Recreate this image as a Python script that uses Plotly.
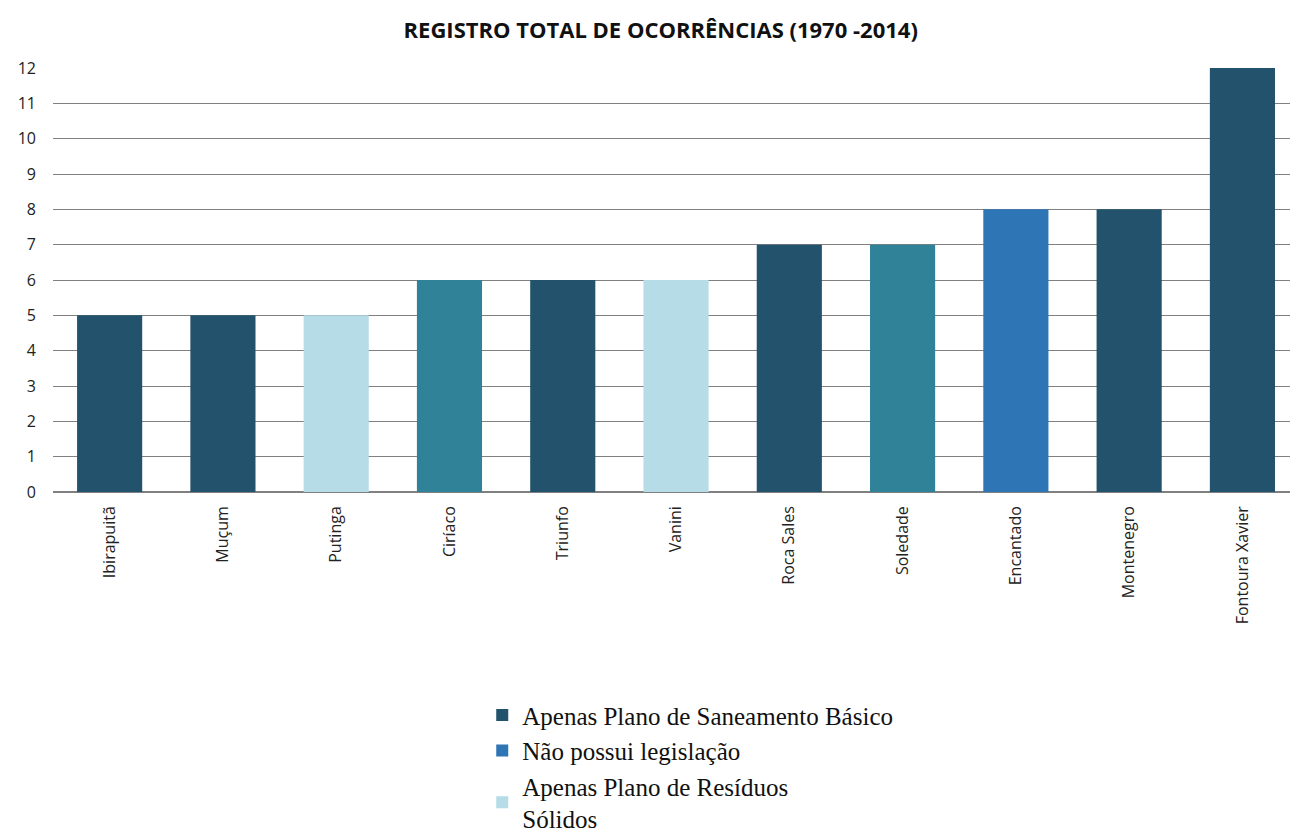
import plotly.graph_objects as go

# Municipalities and total number of recorded occurrences (1970-2014)
cities = ["Ibirapuitã", "Muçum", "Putinga", "Ciríaco", "Triunfo", "Vanini",
          "Roca Sales", "Soledade", "Encantado", "Montenegro", "Fontoura Xavier"]
occurrences = [5, 5, 5, 6, 6, 6, 7, 7, 8, 8, 12]
# Legislation group of each municipality
groups = ["saneamento", "saneamento", "residuos", "outro", "saneamento", "residuos",
          "saneamento", "outro", "sem", "saneamento", "saneamento"]

group_names = {
    "saneamento": "Apenas Plano de Saneamento Básico",
    "sem": "Não possui legislação",
    "residuos": "Apenas Plano de Resíduos<br>Sólidos",
    "outro": "Outro",
}
group_colors = {
    "saneamento": "#22526c",
    "sem": "#2e75b6",
    "residuos": "#b5dce7",
    "outro": "#2f8298",
}
legend_order = ["saneamento", "sem", "residuos", "outro"]

fig = go.Figure()
for i, g in enumerate(legend_order):
    xs = [c for c, gg in zip(cities, groups) if gg == g]
    ys = [v for v, gg in zip(occurrences, groups) if gg == g]
    fig.add_trace(go.Bar(
        x=xs, y=ys, name=group_names[g],
        marker=dict(color=group_colors[g], line=dict(width=0)),
        showlegend=(g != "outro"),
        legendrank=i + 1,
    ))

fig.update_layout(
    width=1293, height=839,
    paper_bgcolor="white", plot_bgcolor="white",
    margin=dict(l=53, r=3, t=68, b=347, autoexpand=False),
    barmode="overlay", bargap=0.425,
    title=dict(
        text="<b>REGISTRO TOTAL DE OCORRÊNCIAS (1970 -2014)</b>",
        x=0.511, xanchor="center", y=0.964, yanchor="middle",
        font=dict(family="Open Sans", size=22, color="#111111"),
    ),
    legend=dict(
        x=0.347, xanchor="left", y=-0.472, yanchor="top",
        orientation="v",
        font=dict(family="Liberation Serif", size=25, color="#111111"),
        traceorder="normal",
        itemsizing="constant",
        bgcolor="rgba(0,0,0,0)",
    ),
    xaxis=dict(
        type="category",
        categoryorder="array", categoryarray=cities,
        range=[-0.5, 10.42],
        tickangle=-90,
        tickfont=dict(family="Open Sans", size=16, color="#222222"),
        showgrid=False, showline=False, zeroline=False,
        ticks="",
        ticklabelstandoff=10,
    ),
    yaxis=dict(
        range=[0, 12],
        tickmode="linear", tick0=0, dtick=1,
        tickfont=dict(family="Open Sans", size=16, color="#222222"),
        showgrid=True, gridcolor="#808080", gridwidth=1,
        zeroline=True, zerolinecolor="#808080", zerolinewidth=1.5,
        showline=False, ticks="",
        ticklabelstandoff=16,
    ),
)

fig.write_html("out.html")
